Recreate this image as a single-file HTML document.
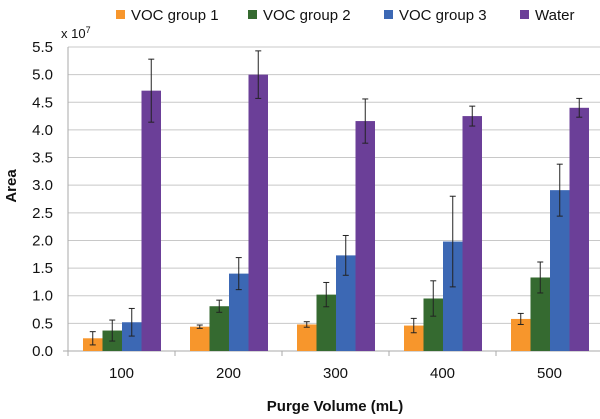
<!DOCTYPE html>
<html><head><meta charset="utf-8"><style>
body{margin:0;background:#fff;}
svg text{font-family:"Liberation Sans",sans-serif;fill:#111;}
</style></head><body>
<svg id="chart" width="600" height="414" viewBox="0 0 600 414"></svg>
<script>
const categories=["100","200","300","400","500"];
const seriesNames=["VOC group 1","VOC group 2","VOC group 3","Water"];
const voc1=[0.23,0.44,0.48,0.46,0.58];
const voc2=[0.37,0.81,1.02,0.95,1.33];
const voc3=[0.52,1.40,1.73,1.98,2.91];
const water=[4.71,5.00,4.16,4.25,4.40];
const err1=[0.12,0.03,0.05,0.13,0.10];
const err2=[0.19,0.11,0.22,0.32,0.28];
const err3=[0.25,0.29,0.36,0.82,0.47];
const errW=[0.57,0.43,0.40,0.18,0.17];
const yTicks=[0,0.5,1.0,1.5,2.0,2.5,3.0,3.5,4.0,4.5,5.0,5.5];
const colors=["#f7962c","#356a30","#3c68b4","#6b3f98"];
const series=[voc1,voc2,voc3,water];
const errs=[err1,err2,err3,errW];
const NS="http://www.w3.org/2000/svg";
const svg=document.getElementById('chart');
const X0=68,Y0=351,YT=47,GW=107,BW=19.5,GOFF=15;
const y=v=>Y0-(v/5.5)*(Y0-YT);
function mk(t,a,p){const e=document.createElementNS(NS,t);for(const k in a)e.setAttribute(k,a[k]);(p||svg).appendChild(e);return e;}
yTicks.forEach(t=>{
  if(t>0){const g=mk('line',{x1:X0,x2:602,y1:y(t),y2:y(t),stroke:'#c8c8c8','stroke-width':1});
  
  }
  const l=mk('text',{x:53,y:y(t)+5,'text-anchor':'end','font-size':15});
  l.textContent=t.toFixed(1);
  
  
});
const ax=mk('line',{x1:X0,x2:X0,y1:YT,y2:Y0,stroke:'#aaa','stroke-width':1});


const xa=mk('line',{x1:X0-5,x2:602,y1:Y0,y2:Y0,stroke:'#aaa','stroke-width':1});


categories.forEach((c,i)=>{
  const tk=mk('line',{x1:X0+i*GW,x2:X0+i*GW,y1:Y0,y2:Y0+5,stroke:'#aaa'});
  
  
  const l=mk('text',{x:X0+i*GW+GW/2,y:378,'text-anchor':'middle','font-size':15});
  l.textContent=c;
  
  
  series.forEach((s,j)=>{
    const bx=X0+i*GW+GOFF+j*BW;
    const r=mk('rect',{x:bx,y:y(s[i]),width:BW,height:Y0-y(s[i]),fill:colors[j]});
    
    
    const cx=bx+BW/2,e=errs[j][i];
    const g=mk('g',{stroke:'#222','stroke-width':1});
    
    
    mk('line',{x1:cx,x2:cx,y1:y(s[i]+e),y2:y(s[i]-e)},g);
    mk('line',{x1:cx-3,x2:cx+3,y1:y(s[i]+e),y2:y(s[i]+e)},g);
    mk('line',{x1:cx-3,x2:cx+3,y1:y(s[i]-e),y2:y(s[i]-e)},g);
  });
});
const lx=[116,248,384,520];
seriesNames.forEach((n,j)=>{
  const g=mk('g',{});
  
  
  mk('rect',{x:lx[j],y:10,width:9,height:9,fill:colors[j]},g);
  const t=mk('text',{x:lx[j]+15,y:20,'font-size':15},g);
  t.textContent=n;
});
</script>
<svg width="600" height="414" style="position:absolute;left:0;top:0">
<text x="61" y="38" font-size="13" style="font-family:'Liberation Sans',sans-serif">x 10<tspan dy="-5" font-size="9">7</tspan></text>
<text x="0" y="0" font-size="15" font-weight="bold" text-anchor="middle" transform="translate(16,186) rotate(-90)" style="font-family:'Liberation Sans',sans-serif">Area</text>
<text x="335" y="411" font-size="15" font-weight="bold" text-anchor="middle" style="font-family:'Liberation Sans',sans-serif">Purge Volume (mL)</text>
</svg>
</body></html>
